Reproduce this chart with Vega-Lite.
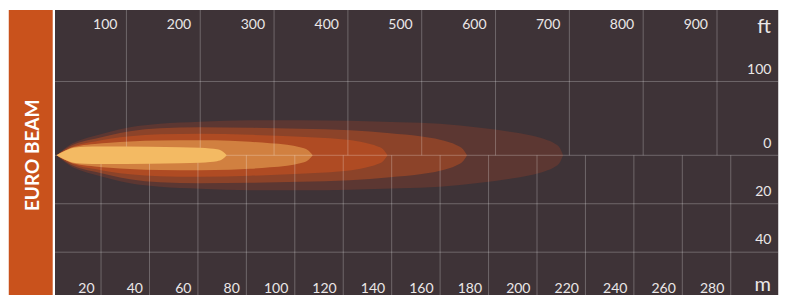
{
  "$schema": "https://vega.github.io/schema/vega-lite/v6.json",
  "width": 787,
  "height": 295,
  "padding": 0,
  "autosize": {"type": "none"},
  "background": "white",
  "config": {"view": {"stroke": null}},
  "datasets": {
    "bar": [{"x": -18.1, "x2": 0.04, "y": 60.0, "y2": -57.68}],
    "bg": [{"x": 0.99, "x2": 299.6, "y": 60.0, "y2": -57.68}],
    "band5": [
      {"x": 1.69, "y": 0, "y2": 0}, {"x": 3.06, "y": 1.24, "y2": -1.24}, {"x": 5.12, "y": 2.89, "y2": -2.89},
      {"x": 7.18, "y": 4.34, "y2": -4.34}, {"x": 11.31, "y": 6.19, "y2": -6.19}, {"x": 17.51, "y": 8.05, "y2": -8.05},
      {"x": 23.7, "y": 9.7, "y2": -9.7}, {"x": 31.96, "y": 11.56, "y2": -11.56}, {"x": 44.34, "y": 13.01, "y2": -13.01},
      {"x": 60.86, "y": 13.83, "y2": -13.83}, {"x": 81.5, "y": 14.45, "y2": -14.45}, {"x": 102.15, "y": 14.45, "y2": -14.45},
      {"x": 122.79, "y": 14.24, "y2": -14.24}, {"x": 143.43, "y": 13.62, "y2": -13.62}, {"x": 159.95, "y": 13.01, "y2": -13.01},
      {"x": 176.47, "y": 11.35, "y2": -11.35}, {"x": 188.85, "y": 9.7, "y2": -9.7}, {"x": 197.11, "y": 8.26, "y2": -8.26},
      {"x": 203.3, "y": 6.61, "y2": -6.61}, {"x": 207.43, "y": 4.75, "y2": -4.75}, {"x": 209.5, "y": 2.89, "y2": -2.89},
      {"x": 210.74, "y": 0, "y2": 0}
    ],
    "band4": [
      {"x": 1.69, "y": 0, "y2": 0}, {"x": 3.06, "y": 1.03, "y2": -1.03}, {"x": 5.12, "y": 2.48, "y2": -2.48},
      {"x": 7.18, "y": 3.72, "y2": -3.72}, {"x": 11.31, "y": 5.37, "y2": -5.37}, {"x": 17.51, "y": 6.81, "y2": -6.81},
      {"x": 23.7, "y": 8.26, "y2": -8.26}, {"x": 31.96, "y": 9.91, "y2": -9.91}, {"x": 44.34, "y": 11.15, "y2": -11.15},
      {"x": 60.86, "y": 11.56, "y2": -11.56}, {"x": 81.5, "y": 11.35, "y2": -11.35}, {"x": 102.15, "y": 10.94, "y2": -10.94},
      {"x": 122.79, "y": 10.32, "y2": -10.32}, {"x": 139.31, "y": 9.08, "y2": -9.08}, {"x": 151.69, "y": 7.84, "y2": -7.84},
      {"x": 159.95, "y": 6.4, "y2": -6.4}, {"x": 166.85, "y": 4.13, "y2": -4.13}, {"x": 169.45, "y": 2.48, "y2": -2.48},
      {"x": 171.1, "y": 0, "y2": 0}
    ],
    "band3": [
      {"x": 1.69, "y": 0, "y2": 0}, {"x": 3.06, "y": 0.95, "y2": -0.95}, {"x": 5.12, "y": 2.06, "y2": -2.06},
      {"x": 7.18, "y": 3.1, "y2": -3.1}, {"x": 11.31, "y": 4.54, "y2": -4.54}, {"x": 17.51, "y": 5.7, "y2": -5.7},
      {"x": 23.7, "y": 6.81, "y2": -6.81}, {"x": 31.96, "y": 7.84, "y2": -7.84}, {"x": 44.34, "y": 8.67, "y2": -8.67},
      {"x": 60.86, "y": 8.88, "y2": -8.88}, {"x": 81.5, "y": 8.46, "y2": -8.46}, {"x": 102.15, "y": 7.64, "y2": -7.64},
      {"x": 114.53, "y": 7.02, "y2": -7.02}, {"x": 121.55, "y": 6.4, "y2": -6.4}, {"x": 128.98, "y": 5.16, "y2": -5.16},
      {"x": 133.94, "y": 3.72, "y2": -3.72}, {"x": 136.42, "y": 2.48, "y2": -2.48}, {"x": 138.27, "y": 0, "y2": 0}
    ],
    "band2": [
      {"x": 1.69, "y": 0, "y2": 0}, {"x": 3.06, "y": 0.83, "y2": -0.83}, {"x": 5.12, "y": 1.86, "y2": -1.86},
      {"x": 7.18, "y": 2.89, "y2": -2.89}, {"x": 11.31, "y": 3.92, "y2": -3.92}, {"x": 17.51, "y": 4.62, "y2": -4.62},
      {"x": 23.7, "y": 5.16, "y2": -5.16}, {"x": 31.96, "y": 5.7, "y2": -5.7}, {"x": 44.34, "y": 6.11, "y2": -6.11},
      {"x": 60.86, "y": 6.19, "y2": -6.19}, {"x": 73.24, "y": 5.99, "y2": -5.99}, {"x": 81.5, "y": 5.57, "y2": -5.57},
      {"x": 89.76, "y": 4.95, "y2": -4.95}, {"x": 96.78, "y": 4.34, "y2": -4.34}, {"x": 102.15, "y": 3.3, "y2": -3.3},
      {"x": 105.45, "y": 2.06, "y2": -2.06}, {"x": 107.39, "y": 0, "y2": 0}
    ],
    "band1": [
      {"x": 1.69, "y": 0, "y2": 0}, {"x": 3.06, "y": 0.83, "y2": -0.83}, {"x": 5.12, "y": 1.86, "y2": -1.86},
      {"x": 7.18, "y": 2.68, "y2": -2.68}, {"x": 9.25, "y": 3.22, "y2": -3.22}, {"x": 13.38, "y": 3.51, "y2": -3.51},
      {"x": 19.57, "y": 3.63, "y2": -3.63}, {"x": 40.21, "y": 3.51, "y2": -3.51}, {"x": 52.6, "y": 3.3, "y2": -3.3},
      {"x": 60.86, "y": 3.1, "y2": -3.1}, {"x": 64.99, "y": 2.81, "y2": -2.81}, {"x": 67.88, "y": 2.48, "y2": -2.48},
      {"x": 70.36, "y": 1.45, "y2": -1.45}, {"x": 71.88, "y": 0, "y2": 0}
    ],
    "hgrid": [
      {"x": 0.99, "x2": 299.6, "y": 30.48}, {"x": 0.99, "x2": 299.6, "y": 0},
      {"x": 0.99, "x2": 299.6, "y": -20}, {"x": 0.99, "x2": 299.6, "y": -40}
    ],
    "ftgrid": [
      {"x": 30.48, "y": 0, "y2": 60.0}, {"x": 60.96, "y": 0, "y2": 60.0},
      {"x": 91.44, "y": 0, "y2": 60.0}, {"x": 121.92, "y": 0, "y2": 60.0},
      {"x": 152.4, "y": 0, "y2": 60.0}, {"x": 182.88, "y": 0, "y2": 60.0},
      {"x": 213.36, "y": 0, "y2": 60.0}, {"x": 243.84, "y": 0, "y2": 60.0},
      {"x": 274.32, "y": 0, "y2": 60.0}
    ],
    "mgrid": [
      {"x": 20, "y": -57.68, "y2": 0}, {"x": 40, "y": -57.68, "y2": 0},
      {"x": 60, "y": -57.68, "y2": 0}, {"x": 80, "y": -57.68, "y2": 0},
      {"x": 100, "y": -57.68, "y2": 0}, {"x": 120, "y": -57.68, "y2": 0},
      {"x": 140, "y": -57.68, "y2": 0}, {"x": 160, "y": -57.68, "y2": 0},
      {"x": 180, "y": -57.68, "y2": 0}, {"x": 200, "y": -57.68, "y2": 0},
      {"x": 220, "y": -57.68, "y2": 0}, {"x": 240, "y": -57.68, "y2": 0},
      {"x": 260, "y": -57.68, "y2": 0}, {"x": 280, "y": -57.68, "y2": 0}
    ],
    "ftlabels": [
      {"x": 30.48, "y": 52.15, "label": "100"}, {"x": 60.96, "y": 52.15, "label": "200"},
      {"x": 91.44, "y": 52.15, "label": "300"}, {"x": 121.92, "y": 52.15, "label": "400"},
      {"x": 152.4, "y": 52.15, "label": "500"}, {"x": 182.88, "y": 52.15, "label": "600"},
      {"x": 213.36, "y": 52.15, "label": "700"}, {"x": 243.84, "y": 52.15, "label": "800"},
      {"x": 274.32, "y": 52.15, "label": "900"}
    ],
    "mlabels": [
      {"x": 20, "y": -56.85, "label": "20"}, {"x": 40, "y": -56.85, "label": "40"},
      {"x": 60, "y": -56.85, "label": "60"}, {"x": 80, "y": -56.85, "label": "80"},
      {"x": 100, "y": -56.85, "label": "100"}, {"x": 120, "y": -56.85, "label": "120"},
      {"x": 140, "y": -56.85, "label": "140"}, {"x": 160, "y": -56.85, "label": "160"},
      {"x": 180, "y": -56.85, "label": "180"}, {"x": 200, "y": -56.85, "label": "200"},
      {"x": 220, "y": -56.85, "label": "220"}, {"x": 240, "y": -56.85, "label": "240"},
      {"x": 260, "y": -56.85, "label": "260"}, {"x": 280, "y": -56.85, "label": "280"}
    ],
    "sidelabels": [
      {"x": 296.8, "y": 30.48, "label": "100"}, {"x": 296.8, "y": 0, "label": "0"},
      {"x": 296.8, "y": -20, "label": "20"}, {"x": 296.8, "y": -40, "label": "40"}
    ],
    "unitft": [{"x": 296.6, "y": 50.5, "label": "ft"}],
    "unitm": [{"x": 296.6, "y": -57.55, "label": "m"}],
    "title": [{"x": -8.3, "y": 0, "label": "EURO BEAM"}]
  },
  "encoding": {
    "x": {"field": "x", "type": "quantitative", "scale": {"domain": [-21.72, 303.22], "nice": false, "zero": false}, "axis": null},
    "y": {"field": "y", "type": "quantitative", "scale": {"domain": [-57.68, 64.12], "nice": false, "zero": false}, "axis": null}
  },
  "layer": [
    {"data": {"name": "bar"}, "mark": {"type": "rect", "color": "#c9521c"}, "encoding": {"x2": {"field": "x2"}, "y2": {"field": "y2"}}},
    {"data": {"name": "bg"}, "mark": {"type": "rect", "color": "#3e3337"}, "encoding": {"x2": {"field": "x2"}, "y2": {"field": "y2"}}},
    {"data": {"name": "band5"}, "mark": {"type": "area", "orient": "vertical", "interpolate": "monotone", "color": "#5c3732", "opacity": 1}, "encoding": {"y2": {"field": "y2"}}},
    {"data": {"name": "band4"}, "mark": {"type": "area", "orient": "vertical", "interpolate": "monotone", "color": "#8c4329", "opacity": 1}, "encoding": {"y2": {"field": "y2"}}},
    {"data": {"name": "band3"}, "mark": {"type": "area", "orient": "vertical", "interpolate": "monotone", "color": "#af4b23", "opacity": 1}, "encoding": {"y2": {"field": "y2"}}},
    {"data": {"name": "band2"}, "mark": {"type": "area", "orient": "vertical", "interpolate": "monotone", "color": "#d18040", "opacity": 1}, "encoding": {"y2": {"field": "y2"}}},
    {"data": {"name": "hgrid"}, "mark": {"type": "rule", "color": "#ffffff", "opacity": 0.25, "strokeWidth": 1}, "encoding": {"x2": {"field": "x2"}}},
    {"data": {"name": "ftgrid"}, "mark": {"type": "rule", "color": "#ffffff", "opacity": 0.25, "strokeWidth": 1}, "encoding": {"y2": {"field": "y2"}}},
    {"data": {"name": "mgrid"}, "mark": {"type": "rule", "color": "#ffffff", "opacity": 0.25, "strokeWidth": 1}, "encoding": {"y2": {"field": "y2"}}},
    {"data": {"name": "band1"}, "mark": {"type": "area", "orient": "vertical", "interpolate": "monotone", "color": "#f3ba63", "opacity": 1}, "encoding": {"y2": {"field": "y2"}}},
    {"data": {"name": "ftlabels"}, "mark": {"type": "text", "align": "right", "baseline": "alphabetic", "dx": -9, "font": "Lato", "fontSize": 14, "color": "#ebe7e7"}, "encoding": {"text": {"field": "label"}}},
    {"data": {"name": "mlabels"}, "mark": {"type": "text", "align": "right", "baseline": "alphabetic", "dx": -6.5, "font": "Lato", "fontSize": 14, "color": "#ebe7e7"}, "encoding": {"text": {"field": "label"}}},
    {"data": {"name": "sidelabels"}, "mark": {"type": "text", "align": "right", "baseline": "alphabetic", "dy": -7.7, "font": "Lato", "fontSize": 14, "color": "#ebe7e7"}, "encoding": {"text": {"field": "label"}}},
    {"data": {"name": "unitft"}, "mark": {"type": "text", "align": "right", "baseline": "alphabetic", "font": "Lato", "fontSize": 20, "color": "#ebe7e7"}, "encoding": {"text": {"field": "label"}}},
    {"data": {"name": "unitm"}, "mark": {"type": "text", "align": "right", "baseline": "bottom", "font": "Lato", "fontSize": 20, "color": "#ebe7e7"}, "encoding": {"text": {"field": "label"}}},
    {"data": {"name": "title"}, "mark": {"type": "text", "align": "center", "baseline": "middle", "angle": 270, "font": "Lato", "fontWeight": "bold", "fontSize": 19, "color": "#ffffff"}, "encoding": {"text": {"field": "label"}}}
  ]
}
